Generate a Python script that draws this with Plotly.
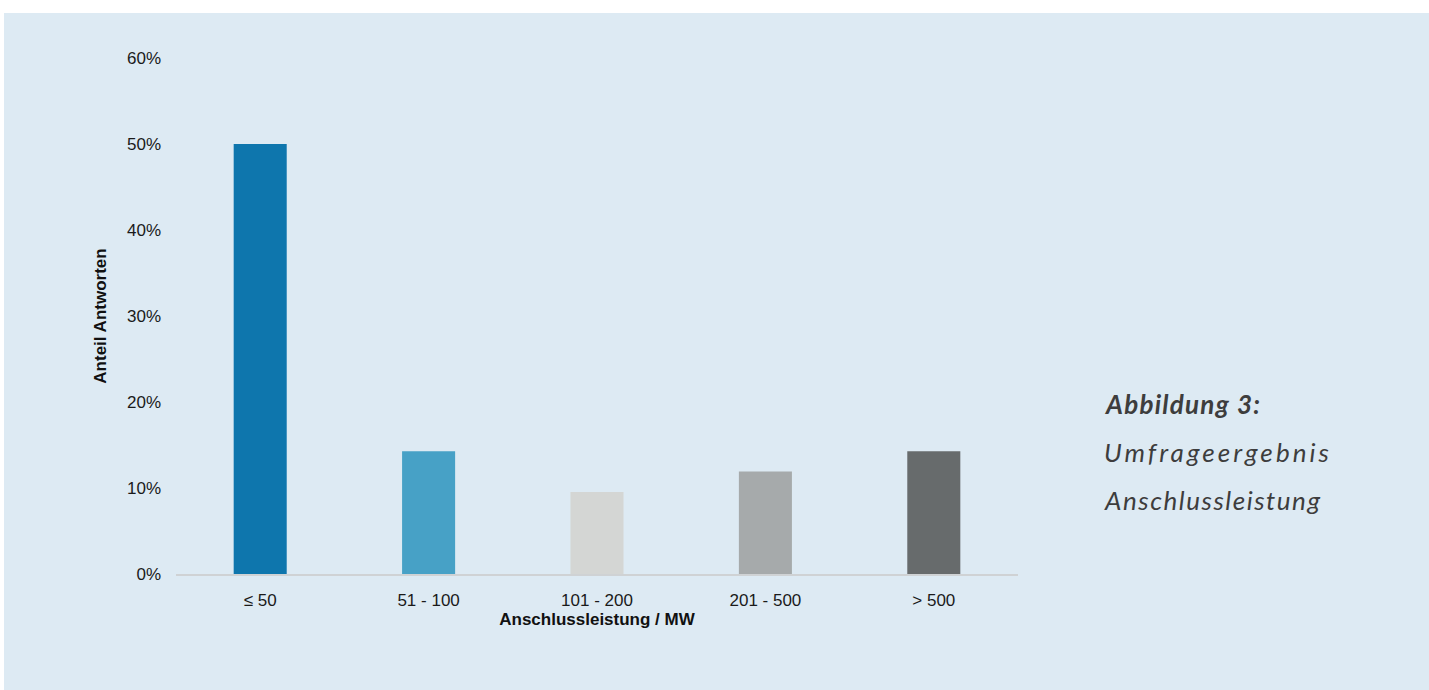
import plotly.graph_objects as go

# Survey result: connection capacity of respondents
categories = ["≤ 50", "51 - 100", "101 - 200", "201 - 500", "> 500"]
shares = [21 / 42, 6 / 42, 4 / 42, 5 / 42, 6 / 42]
bar_colors = ["#0e76ad", "#47a1c6", "#d4d6d4", "#a6aaab", "#676b6c"]
y_ticks = [0, 0.1, 0.2, 0.3, 0.4, 0.5, 0.6]

caption_lines = ["Abbildung 3:", "Umfrageergebnis", "Anschlussleistung"]
caption_weights = ["bold", "normal", "normal"]
caption_widths = [154, 225, 215]  # rendered line widths in px

W, H = 1429, 690
ML, MR, MT, MB = 176, 411, 58, 116
PW, PH = W - ML - MR, H - MT - MB
BG = "#ddeaf3"


def px_x(px):
    return (px - ML) / PW


def px_y(py):
    return (H - MB - py) / PH


fig = go.Figure(
    go.Bar(
        x=categories,
        y=shares,
        marker=dict(color=bar_colors, line=dict(width=0)),
        width=0.315,
        hoverinfo="skip",
    )
)

# thin white frame along the top and left edges of the panel
fig.add_shape(type="rect", xref="paper", yref="paper",
              x0=px_x(-5), x1=px_x(W + 5), y0=px_y(13), y1=px_y(-5),
              fillcolor="white", line=dict(width=0), layer="below")
fig.add_shape(type="rect", xref="paper", yref="paper",
              x0=px_x(-5), x1=px_x(4), y0=px_y(H + 5), y1=px_y(-5),
              fillcolor="white", line=dict(width=0), layer="below")

for i, (line, weight) in enumerate(zip(caption_lines, caption_weights)):
    fig.add_annotation(
        text=line, xref="paper", yref="paper",
        x=px_x(1102), y=px_y(404 + 48 * i),
        xanchor="left", yanchor="middle", align="left", showarrow=False,
        font=dict(family="Lato", size=26, color="#3d3d3d",
                  style="italic", weight=weight),
    )

fig.update_layout(
    width=W, height=H,
    margin=dict(l=ML, r=MR, t=MT, b=MB, pad=0),
    paper_bgcolor=BG, plot_bgcolor="rgba(0,0,0,0)",
    showlegend=False,
    font=dict(family="Liberation Sans, Arial", size=17, color="#1a1a1a"),
)
fig.update_xaxes(
    showgrid=False, zeroline=False, showline=True,
    linecolor="#cfd2d4", linewidth=2, ticks="",
    ticklabelstandoff=10,
    title=dict(text="<b>Anschlussleistung / MW</b>", standoff=4,
               font=dict(size=17, color="#111")),
)
fig.update_yaxes(
    range=[0, 0.6], tickvals=y_ticks, tickformat=".0%",
    showgrid=False, zeroline=False, showline=False, ticks="",
    ticklabelstandoff=14,
    title=dict(text="<b>Anteil Antworten</b>", standoff=16,
               font=dict(size=17, color="#111")),
)

# spread each caption line to its set width; page background matches panel
post_js = """
document.body.style.margin = '0';
document.body.style.background = '%s';
var gd = document.getElementById('{plot_id}');
var widths = %s;
var lines = %s;
gd.querySelectorAll('.annotation-text').forEach(function(t){
  var k = lines.indexOf(t.textContent);
  if (k >= 0) {
    t.setAttribute('textLength', widths[k]);
    t.setAttribute('lengthAdjust', 'spacing');
  }
});
""" % (BG, caption_widths, [s for s in caption_lines])

fig.write_html("out.html", post_script=post_js)
